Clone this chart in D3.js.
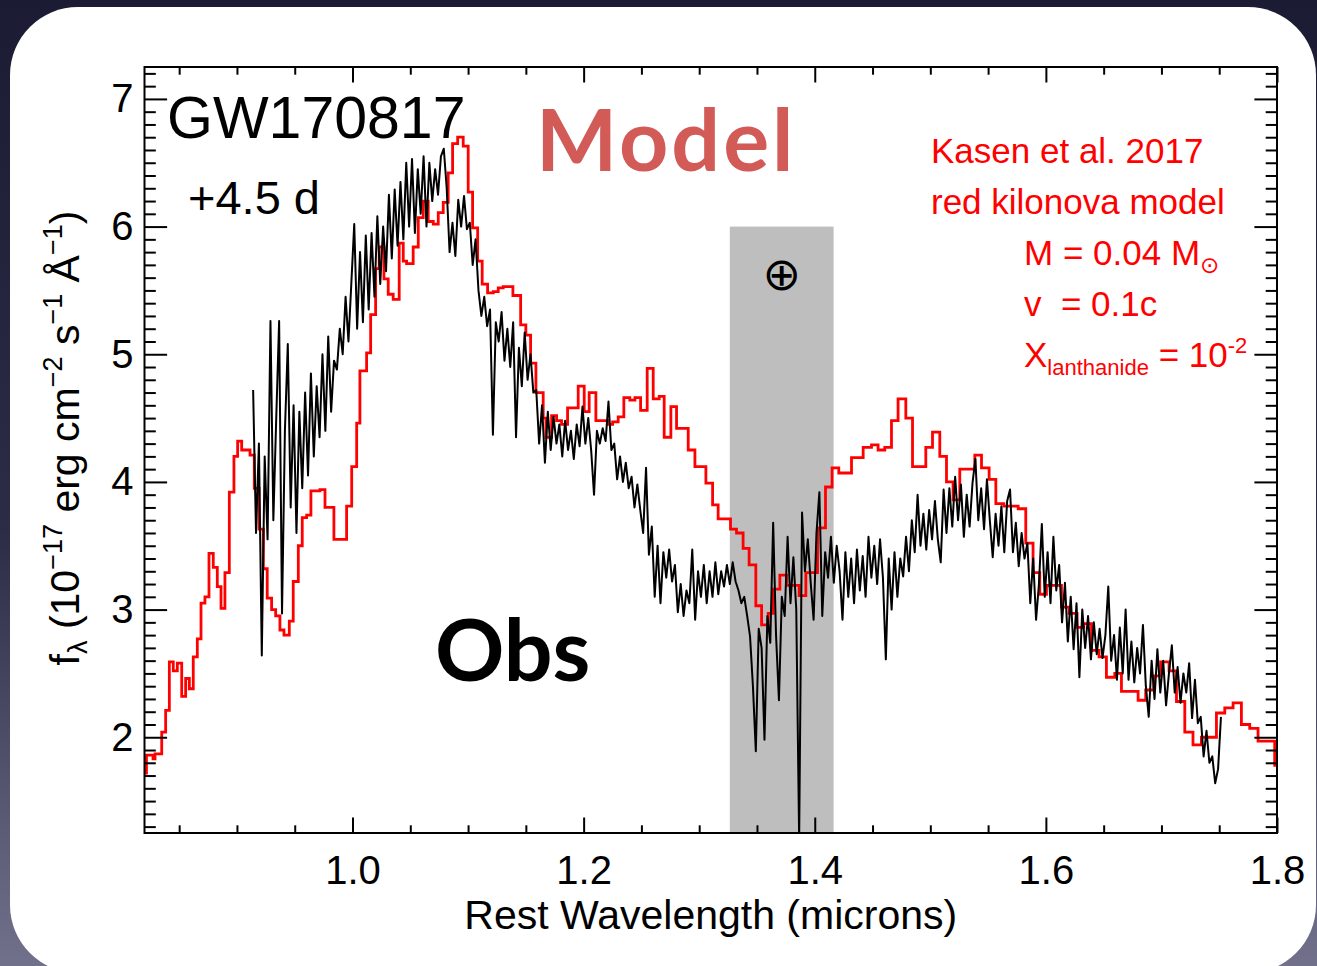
<!DOCTYPE html>
<html>
<head>
<meta charset="utf-8">
<script src="https://cdn.jsdelivr.net/npm/d3@7"></script>
<style>
  html, body { margin: 0; padding: 0; background: #1d1d35; }
  svg { display: block; }
  text { white-space: pre; }
</style>
</head>
<body>
<svg id="chart" width="1317" height="966"></svg>
<script>
// ---- Axis ranges and ticks ----
const xDomain = [0.82, 1.80];
const yDomain = [1.25, 7.25];
const xMajorTicks = [1.0, 1.2, 1.4, 1.6, 1.8];
const yMajorTicks = [2, 3, 4, 5, 6, 7];
const xMinorStep = 0.05;
const yMinorStep = 0.1;

// Telluric absorption band (microns) and its top (flux units)
const telluricBand = [1.3265, 1.4163];
const telluricTop = 6.0;

// ---- Kasen et al. 2017 red kilonova model: bin start wavelength / flux ----
const modelWave = [
  0.8200,0.8217,0.8274,0.8291,0.8349,0.8383,0.8415,0.8449,0.8484,0.8522,
  0.8556,0.8588,0.8622,0.8657,0.8689,0.8723,0.8758,0.8795,0.8830,0.8862,
  0.8896,0.8934,0.8974,0.9006,0.9041,0.9113,0.9150,0.9191,0.9228,0.9262,
  0.9300,0.9335,0.9372,0.9407,0.9453,0.9487,0.9531,0.9565,0.9603,0.9640,
  0.9718,0.9762,0.9839,0.9949,0.9993,1.0036,1.0064,1.0122,1.0157,1.0200,
  1.0231,1.0272,1.0309,1.0352,1.0404,1.0439,1.0468,1.0525,1.0569,1.0612,
  1.0655,1.0699,1.0742,1.0785,1.0828,1.0866,1.0910,1.0958,1.1001,1.1039,
  1.1083,1.1122,1.1169,1.1218,1.1261,1.1304,1.1388,1.1455,1.1500,1.1541,
  1.1587,1.1650,1.1674,1.1723,1.1766,1.1809,1.1861,1.1953,1.2005,1.2048,
  1.2106,1.2212,1.2251,1.2299,1.2348,1.2400,1.2444,1.2493,1.2550,1.2602,
  1.2654,1.2697,1.2755,1.2804,1.2905,1.2963,1.3058,1.3116,1.3164,1.3271,
  1.3323,1.3380,1.3432,1.3490,1.3540,1.3597,1.3640,1.3698,1.3756,1.3865,
  1.3923,1.4024,1.4093,1.4150,1.4208,1.4318,1.4419,1.4491,1.4548,1.4606,
  1.4664,1.4721,1.4788,1.4846,1.4961,1.5019,1.5082,1.5140,1.5197,1.5255,
  1.5385,1.5443,1.5509,1.5567,1.5636,1.5760,1.5826,1.5889,1.5947,1.6005,
  1.6135,1.6201,1.6270,1.6328,1.6395,1.6460,1.6524,1.6596,1.6654,1.6798,
  1.6864,1.6934,1.6994,1.7066,1.7130,1.7202,1.7273,1.7346,1.7476,1.7548,
  1.7620,1.7692,1.7764,1.7836,1.7980,1.8000
];
const modelFlux = [
  1.72,1.86,1.83,1.87,2.04,2.21,2.59,2.52,2.58,2.32,
  2.46,2.38,2.63,2.77,3.05,3.10,3.44,3.33,3.18,3.01,
  3.29,3.92,4.20,4.32,4.25,4.21,3.95,3.63,3.32,3.09,
  3.00,2.95,2.84,2.80,2.91,3.22,3.50,3.72,3.74,3.93,
  3.94,3.80,3.55,3.81,4.12,4.46,4.87,5.01,5.31,5.67,
  5.84,5.59,5.47,5.43,5.87,5.73,5.71,5.84,6.07,6.20,
  6.04,6.02,6.11,6.19,6.42,6.65,6.70,6.63,6.27,5.99,
  5.73,5.55,5.48,5.49,5.52,5.53,5.46,5.23,5.15,4.93,
  4.70,4.50,4.35,4.52,4.48,4.45,4.58,4.75,4.55,4.70,
  4.48,4.45,4.47,4.51,4.66,4.64,4.66,4.56,4.89,4.65,
  4.67,4.35,4.59,4.42,4.25,4.12,3.99,3.82,3.71,3.63,
  3.60,3.48,3.35,3.03,2.88,2.97,3.16,3.27,3.19,3.11,
  3.29,3.64,3.96,4.11,4.07,4.19,4.27,4.29,4.25,4.27,
  4.48,4.65,4.50,4.12,4.27,4.39,4.20,4.00,3.86,4.10,
  4.21,4.11,4.02,3.83,3.81,3.79,3.52,3.29,3.12,3.19,
  3.02,2.97,2.86,2.89,2.68,2.63,2.47,2.50,2.36,2.29,
  2.37,2.48,2.59,2.52,2.28,2.04,1.94,2.00,2.19,2.23,
  2.27,2.10,2.07,1.97,1.78,1.78
];

// ---- GW170817 observed spectrum, +4.5 d: wavelength / flux ----
const obsWave = [
  0.914,0.9165,0.919,0.9215,0.924,0.9265,0.929,0.9315,
  0.934,0.9365,0.939,0.9415,0.944,0.9465,0.949,0.9515,
  0.954,0.9565,0.959,0.9615,0.964,0.9665,0.969,0.9715,
  0.974,0.9765,0.979,0.9815,0.984,0.9865,0.989,0.9915,
  0.994,0.9965,0.999,1.0015,1.004,1.0065,1.009,1.0115,
  1.014,1.0165,1.019,1.0215,1.024,1.0265,1.029,1.0315,
  1.034,1.0365,1.039,1.0415,1.044,1.0465,1.049,1.0515,
  1.054,1.0565,1.059,1.0615,1.064,1.0665,1.069,1.0715,
  1.074,1.0765,1.079,1.0815,1.084,1.0865,1.089,1.0915,
  1.094,1.0965,1.099,1.1015,1.104,1.1065,1.109,1.1115,
  1.114,1.1165,1.119,1.1215,1.124,1.1265,1.129,1.1315,
  1.134,1.1365,1.139,1.1415,1.144,1.1465,1.149,1.1515,
  1.154,1.1565,1.159,1.1615,1.164,1.1665,1.169,1.1715,
  1.174,1.1765,1.179,1.1815,1.184,1.1865,1.189,1.1915,
  1.194,1.1965,1.199,1.2015,1.204,1.2065,1.209,1.2115,
  1.214,1.2165,1.219,1.2215,1.224,1.2265,1.229,1.2315,
  1.234,1.2365,1.239,1.2415,1.244,1.2465,1.249,1.2515,
  1.254,1.2565,1.259,1.2615,1.264,1.2665,1.269,1.2715,
  1.274,1.2765,1.279,1.2815,1.284,1.2865,1.289,1.2915,
  1.294,1.2965,1.299,1.3015,1.304,1.3065,1.309,1.3115,
  1.314,1.3165,1.319,1.3215,1.324,1.3265,1.329,1.3315,
  1.334,1.3365,1.339,1.3415,1.344,1.3465,1.349,1.3515,
  1.354,1.3565,1.359,1.3615,1.364,1.3665,1.369,1.3715,
  1.374,1.3765,1.379,1.3815,1.384,1.3865,1.389,1.3915,
  1.394,1.3965,1.399,1.4015,1.404,1.4065,1.409,1.4115,
  1.414,1.4165,1.419,1.4215,1.424,1.4265,1.429,1.4315,
  1.434,1.4365,1.439,1.4415,1.444,1.4465,1.449,1.4515,
  1.454,1.4565,1.459,1.4615,1.464,1.4665,1.469,1.4715,
  1.474,1.4765,1.479,1.4815,1.484,1.4865,1.489,1.4915,
  1.494,1.4965,1.499,1.5015,1.504,1.5065,1.509,1.5115,
  1.514,1.5165,1.519,1.5215,1.524,1.5265,1.529,1.5315,
  1.534,1.5365,1.539,1.5415,1.544,1.5465,1.549,1.5515,
  1.554,1.5565,1.559,1.5615,1.564,1.5665,1.569,1.5715,
  1.574,1.5765,1.579,1.5815,1.584,1.5865,1.589,1.5915,
  1.594,1.5965,1.599,1.6015,1.604,1.6065,1.609,1.6115,
  1.614,1.6165,1.619,1.6215,1.624,1.6265,1.629,1.6315,
  1.634,1.6365,1.639,1.6415,1.644,1.6465,1.649,1.6515,
  1.654,1.6565,1.659,1.6615,1.664,1.6665,1.669,1.6715,
  1.674,1.6765,1.679,1.6815,1.684,1.6865,1.689,1.6915,
  1.694,1.6965,1.699,1.7015,1.704,1.7065,1.709,1.7115,
  1.714,1.7165,1.719,1.7215,1.724,1.7265,1.729,1.7315,
  1.734,1.7365,1.739,1.7415,1.744,1.7465,1.749,1.7515
];
const obsFlux = [
  4.72,3.60,4.30,2.64,4.20,3.55,5.26,3.70,
  4.50,5.26,2.97,4.40,5.08,3.80,4.60,3.60,
  4.55,3.95,4.70,4.05,4.85,4.20,4.75,4.35,
  5.00,4.40,5.14,4.55,4.95,4.88,5.20,5.00,
  5.45,5.10,5.56,6.02,5.20,5.80,5.25,5.93,
  5.35,5.95,5.45,6.08,5.55,6.00,5.65,6.25,
  5.75,6.29,5.85,6.35,5.90,6.50,6.00,6.53,
  5.95,6.45,6.10,6.55,6.00,6.50,6.20,6.45,
  6.25,6.55,6.61,6.30,5.80,6.03,5.77,6.21,
  6.00,6.24,5.98,6.03,5.70,5.90,5.50,5.30,
  5.45,5.22,5.35,4.37,5.25,5.10,5.33,4.95,
  5.20,4.90,5.25,4.35,5.05,4.75,5.17,4.80,
  5.00,4.70,4.72,4.30,4.60,4.15,4.55,4.25,
  4.51,4.30,4.45,4.20,4.48,4.25,4.40,4.18,
  4.45,4.28,4.59,4.30,4.50,4.25,3.90,4.40,
  4.30,4.42,4.32,4.63,4.25,4.30,4.02,4.20,
  4.00,4.15,3.95,4.04,3.80,3.98,3.78,3.60,
  4.11,3.43,3.65,3.10,3.50,3.05,3.45,3.25,
  3.47,3.22,3.35,2.98,3.20,2.95,3.15,3.05,
  3.47,2.92,3.30,3.10,3.35,3.05,3.30,3.10,
  3.37,3.12,3.30,3.18,3.35,3.20,3.37,3.22,
  3.15,3.05,3.10,2.95,2.79,2.40,1.89,2.85,
  2.70,1.98,2.95,2.74,3.68,2.80,2.29,3.10,
  2.95,3.57,3.05,3.41,3.00,1.20,3.76,3.30,
  3.55,3.21,2.92,3.60,3.92,2.95,3.45,3.25,
  3.57,3.21,3.50,3.30,2.92,3.45,3.10,3.40,
  3.05,3.47,3.15,3.42,3.10,3.57,3.25,3.50,
  3.20,3.55,3.25,2.61,3.40,3.00,3.45,3.10,
  3.40,3.26,3.57,3.30,3.70,3.45,3.90,3.50,
  3.75,3.47,3.78,3.55,3.85,3.55,3.37,3.94,
  3.60,3.95,3.65,4.04,3.70,3.98,3.57,3.90,
  3.65,3.99,4.18,3.70,3.95,3.63,4.02,3.70,
  3.41,3.75,3.50,3.81,3.45,3.85,3.94,3.45,
  3.68,3.34,3.60,3.40,3.52,3.05,3.40,2.92,
  3.20,3.67,3.10,3.45,3.05,3.57,3.15,3.35,
  2.90,3.21,2.75,3.10,2.69,3.05,2.47,3.00,
  2.70,2.95,2.61,2.90,2.65,2.85,2.62,2.80,
  3.18,2.60,2.80,2.45,2.86,2.50,3.00,2.45,
  2.75,2.43,2.70,2.50,2.88,2.40,2.16,2.60,
  2.30,2.69,2.35,2.60,2.25,2.50,2.72,2.35,
  2.55,2.27,2.50,2.35,2.58,2.15,2.45,2.11,
  2.16,1.85,2.05,1.80,1.85,1.64,1.75,2.16
];

// ---- Layout ----
const W = 1317, H = 966;
const plot = { left: 144.5, right: 1277, top: 67, bottom: 833 };
const sans = '"Liberation Sans", Arial, Helvetica, sans-serif';
const heavy = 'Lato, "Open Sans", sans-serif';

const svg = d3.select('#chart');
const defs = svg.append('defs');

const grad = defs.append('linearGradient')
  .attr('id', 'bg').attr('x1', 0).attr('y1', 0).attr('x2', 0).attr('y2', 1);
grad.append('stop').attr('offset', '0%').attr('stop-color', '#1b1b33');
grad.append('stop').attr('offset', '55%').attr('stop-color', '#2c2c47');
grad.append('stop').attr('offset', '100%').attr('stop-color', '#71718b');

svg.append('rect').attr('width', W).attr('height', H).attr('fill', 'url(#bg)');
svg.append('rect')
  .attr('x', 10).attr('y', 7).attr('width', 1306).attr('height', 966)
  .attr('rx', 68).attr('ry', 68).attr('fill', '#ffffff');

defs.append('clipPath').attr('id', 'plotClip')
  .append('rect')
  .attr('x', plot.left).attr('y', plot.top)
  .attr('width', plot.right - plot.left).attr('height', plot.bottom - plot.top);

const x = d3.scaleLinear().domain(xDomain).range([plot.left, plot.right]);
const y = d3.scaleLinear().domain(yDomain).range([plot.bottom, plot.top]);

// Telluric band
svg.append('rect')
  .attr('x', x(telluricBand[0]))
  .attr('y', y(telluricTop))
  .attr('width', x(telluricBand[1]) - x(telluricBand[0]))
  .attr('height', y(yDomain[0]) - y(telluricTop))
  .attr('fill', '#bebebe');

svg.append('text')
  .attr('x', x((telluricBand[0] + telluricBand[1]) / 2))
  .attr('y', 290)
  .attr('text-anchor', 'middle')
  .style('font-family', '"DejaVu Sans", sans-serif')
  .style('font-size', '46px')
  .attr('fill', '#000')
  .text('\u2295');

const plotArea = svg.append('g').attr('clip-path', 'url(#plotClip)');

const modelData = modelWave.map((w, i) => [w, modelFlux[i]]);
const obsData = obsWave.map((w, i) => [w, obsFlux[i]]);

plotArea.append('path')
  .datum(modelData)
  .attr('fill', 'none')
  .attr('stroke', '#ff0000')
  .attr('stroke-width', 2.8)
  .attr('stroke-linejoin', 'miter')
  .attr('d', d3.line().x(d => x(d[0])).y(d => y(d[1])).curve(d3.curveStepAfter));

plotArea.append('path')
  .datum(obsData)
  .attr('fill', 'none')
  .attr('stroke', '#000000')
  .attr('stroke-width', 2)
  .attr('stroke-linejoin', 'round')
  .attr('d', d3.line().x(d => x(d[0])).y(d => y(d[1])));

// ---- Axes (IDL style: ticks inside on all four sides) ----
const xMinor = d3.range(0.85, 1.8, xMinorStep).filter(v => !xMajorTicks.some(t => Math.abs(t - v) < 1e-6));
const yMinor = d3.range(1.3, 7.25, yMinorStep).filter(v => !yMajorTicks.some(t => Math.abs(t - v) < 1e-6));
const xMajLen = 15.5, xMinLen = 7.7, yMajLen = 22.6, yMinLen = 11.3;

function styleAxis(g) {
  g.select('.domain').remove();
  g.selectAll('line').attr('stroke', '#000').attr('stroke-width', 2);
  g.selectAll('text').style('font-family', sans).style('font-size', '40px').attr('fill', '#000');
}

svg.append('g').attr('transform', `translate(0,${plot.bottom})`)
  .call(d3.axisBottom(x).tickValues(xMajorTicks).tickSizeInner(-xMajLen).tickSizeOuter(0)
    .tickPadding(23).tickFormat(d3.format('.1f')))
  .call(styleAxis);
svg.append('g').attr('transform', `translate(0,${plot.bottom})`)
  .call(d3.axisBottom(x).tickValues(xMinor).tickSizeInner(-xMinLen).tickSizeOuter(0).tickFormat(''))
  .call(styleAxis);
svg.append('g').attr('transform', `translate(0,${plot.top})`)
  .call(d3.axisTop(x).tickValues(xMajorTicks).tickSizeInner(-xMajLen).tickSizeOuter(0).tickFormat(''))
  .call(styleAxis);
svg.append('g').attr('transform', `translate(0,${plot.top})`)
  .call(d3.axisTop(x).tickValues(xMinor).tickSizeInner(-xMinLen).tickSizeOuter(0).tickFormat(''))
  .call(styleAxis);

svg.append('g').attr('transform', `translate(${plot.left},0)`)
  .call(d3.axisLeft(y).tickValues(yMajorTicks).tickSizeInner(-yMajLen).tickSizeOuter(0)
    .tickPadding(11).tickFormat(d3.format('d')))
  .call(styleAxis);
svg.append('g').attr('transform', `translate(${plot.left},0)`)
  .call(d3.axisLeft(y).tickValues(yMinor).tickSizeInner(-yMinLen).tickSizeOuter(0).tickFormat(''))
  .call(styleAxis);
svg.append('g').attr('transform', `translate(${plot.right},0)`)
  .call(d3.axisRight(y).tickValues(yMajorTicks).tickSizeInner(-yMajLen).tickSizeOuter(0).tickFormat(''))
  .call(styleAxis);
svg.append('g').attr('transform', `translate(${plot.right},0)`)
  .call(d3.axisRight(y).tickValues(yMinor).tickSizeInner(-yMinLen).tickSizeOuter(0).tickFormat(''))
  .call(styleAxis);

svg.append('rect')
  .attr('x', plot.left).attr('y', plot.top)
  .attr('width', plot.right - plot.left).attr('height', plot.bottom - plot.top)
  .attr('fill', 'none').attr('stroke', '#000').attr('stroke-width', 2);

// ---- Axis titles ----
svg.append('text')
  .attr('x', (plot.left + plot.right) / 2).attr('y', 929)
  .attr('text-anchor', 'middle')
  .style('font-family', sans).style('font-size', '41px')
  .text('Rest Wavelength (microns)');

const yTitle = svg.append('text')
  .attr('transform', 'translate(79,438) rotate(-90)')
  .attr('text-anchor', 'middle')
  .style('font-family', sans).style('font-size', '41px');
const yParts = [
  ['f', 41, 0], ['\u03bb', 27, 8], [' (10', 41, -8], ['\u221217', 27, -17],
  [' erg cm', 41, 17], ['\u22122', 27, -17], [' s', 41, 17], ['\u22121', 27, -17],
  [' \u00c5', 41, 17], ['\u22121', 27, -17], [')', 41, 17]
];
yParts.forEach(([t, fs, dy]) => {
  yTitle.append('tspan').attr('dy', dy).style('font-size', fs + 'px').text(t);
});

// ---- Annotations ----
svg.append('text').attr('x', 167).attr('y', 138)
  .style('font-family', sans).style('font-size', '59px').text('GW170817');
svg.append('text').attr('x', 188).attr('y', 214)
  .style('font-family', sans).style('font-size', '47px').text('+4.5 d');

svg.append('text').attr('x', 536).attr('y', 171)
  .style('font-family', heavy).style('font-weight', 700).style('font-size', '86px')
  .style('letter-spacing', '3px')
  .attr('fill', '#d35b57').text('Model');
svg.append('text').attr('x', 435).attr('y', 681)
  .style('font-family', heavy).style('font-weight', 700).style('font-size', '86px')
  .attr('fill', '#000').text('Obs');

const red = '#ff0000';
const note = (xp, yp) => svg.append('text').attr('x', xp).attr('y', yp)
  .style('font-family', sans).style('font-size', '35px').attr('fill', red);

note(931, 163).text('Kasen et al. 2017');
note(931, 214).text('red kilonova model');
const mLine = note(1024, 265);
mLine.append('tspan').text('M = 0.04 M');
mLine.append('tspan').attr('dy', 8).style('font-family', '"DejaVu Sans", sans-serif')
  .style('font-size', '23px').text('\u2299');
note(1024, 316).text('v  = 0.1c');
const xLine = note(1024, 367);
xLine.append('tspan').text('X');
xLine.append('tspan').attr('dy', 8).style('font-size', '22px').text('lanthanide');
xLine.append('tspan').attr('dy', -8).text(' = 10');
xLine.append('tspan').attr('dy', -14).style('font-size', '22px').text('-2');
</script>
</body>
</html>
